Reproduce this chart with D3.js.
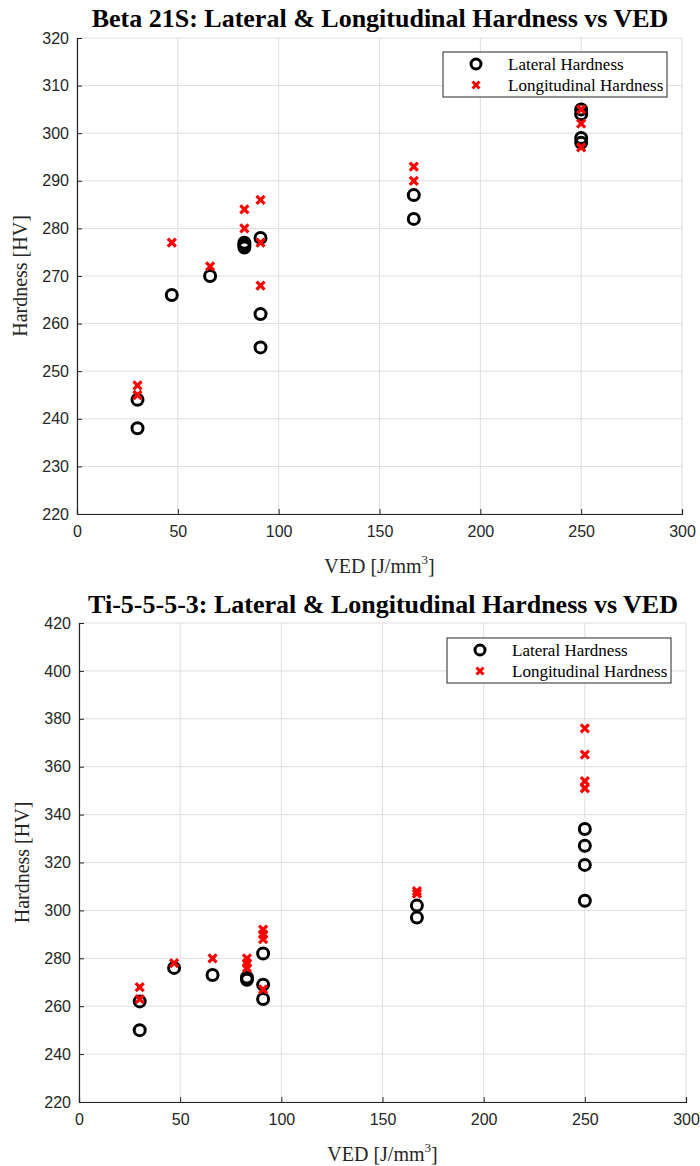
<!DOCTYPE html>
<html>
<head>
<meta charset="utf-8">
<script src="https://cdn.jsdelivr.net/npm/d3@7"></script>
<style>
  html, body { margin: 0; padding: 0; background: #fff; }
  svg { display: block; }
</style>
</head>
<body>
<svg id="fig" width="700" height="1166"></svg>
<script>
// Beta 21S hardness measurements (VED in J/mm^3, hardness in HV)
const betaLatVED = [30, 30, 47, 66, 83, 83, 83, 91, 91, 91, 167, 167, 250, 250, 250, 250];
const betaLatHV  = [244, 238, 266, 270, 277, 276.5, 276, 278, 262, 255, 287, 282, 305, 304, 299, 298];
const betaLonVED = [30, 30, 47, 66, 83, 83, 91, 91, 91, 167, 167, 250, 250, 250];
const betaLonHV  = [247, 245, 277, 272, 284, 280, 286, 277, 268, 293, 290, 305, 302, 297];

// Ti-5-5-5-3 hardness measurements
const tiLatVED = [30, 30, 47, 66, 83, 83, 91, 91, 91, 167, 167, 250, 250, 250, 250];
const tiLatHV  = [262, 250, 276, 273, 272, 271, 282, 269, 263, 302, 297, 334, 327, 319, 304];
const tiLonVED = [30, 30, 47, 66, 83, 83, 83, 91, 91, 91, 91, 167, 167, 250, 250, 250, 250];
const tiLonHV  = [268, 263, 278, 280, 280, 278, 276, 292, 290, 288, 267, 308, 307, 376, 365, 354, 351];

const xTicks = [0, 50, 100, 150, 200, 250, 300];
const betaYTicks = [220, 230, 240, 250, 260, 270, 280, 290, 300, 310, 320];
const tiYTicks = [220, 240, 260, 280, 300, 320, 340, 360, 380, 400, 420];

const seriesNames = ["Lateral Hardness", "Longitudinal Hardness"];

const svg = d3.select("#fig");
const crossPath = "M-4,-4L4,4M-4,4L4,-4";
const serif = "'Liberation Serif', 'Times New Roman', serif";

function drawPanel(cfg) {
  const g = svg.append("g");
  const x = d3.scaleLinear().domain([0, 300]).range([cfg.left, cfg.right]);
  const y = d3.scaleLinear().domain(cfg.yDomain).range([cfg.bottom, cfg.top]);

  // grid
  g.append("g").selectAll("line").data(xTicks).join("line")
    .attr("x1", d => x(d)).attr("x2", d => x(d))
    .attr("y1", cfg.top).attr("y2", cfg.bottom)
    .attr("stroke", "#dedede").attr("stroke-width", 1);
  g.append("g").selectAll("line").data(cfg.yTicks).join("line")
    .attr("x1", cfg.left).attr("x2", cfg.right)
    .attr("y1", d => y(d)).attr("y2", d => y(d))
    .attr("stroke", "#dedede").attr("stroke-width", 1);

  // axes
  const xAxis = d3.axisBottom(x).tickValues(xTicks).tickSize(-5).tickPadding(12).tickFormat(d3.format("d"));
  const yAxis = d3.axisLeft(y).tickValues(cfg.yTicks).tickSize(-5).tickPadding(8).tickFormat(d3.format("d"));
  const ax = g.append("g").attr("transform", `translate(0,${cfg.bottom})`).call(xAxis);
  const ay = g.append("g").attr("transform", `translate(${cfg.left},0)`).call(yAxis);
  [ax, ay].forEach(a => {
    a.select(".domain").attr("stroke", "#262626").attr("stroke-width", 1.2);
    a.selectAll(".tick line").attr("stroke", "#262626");
    a.selectAll(".tick text").attr("fill", "#262626")
      .style("font-family", "'Liberation Sans', Arial, sans-serif").style("font-size", "16px");
  });

  // lateral hardness: open circles
  g.append("g").selectAll("circle").data(cfg.latVED.map((v, i) => [v, cfg.latHV[i]])).join("circle")
    .attr("cx", d => x(d[0])).attr("cy", d => y(d[1])).attr("r", 5.5)
    .attr("fill", "none").attr("stroke", "#000").attr("stroke-width", 3);

  // longitudinal hardness: red crosses
  g.append("g").selectAll("path").data(cfg.lonVED.map((v, i) => [v, cfg.lonHV[i]])).join("path")
    .attr("transform", d => `translate(${x(d[0])},${y(d[1])})`)
    .attr("d", crossPath).attr("stroke", "#ff0000").attr("stroke-width", 3.2).attr("fill", "none");

  // title
  g.append("text").attr("x", cfg.titleX).attr("y", cfg.titleY).attr("text-anchor", "middle")
    .style("font-family", serif).style("font-weight", "bold")
    .style("font-size", "26px").attr("fill", "#000").text(cfg.title);

  // axis labels
  const xl = g.append("text").attr("x", (cfg.left + cfg.right) / 2).attr("y", cfg.bottom + 59)
    .attr("text-anchor", "middle")
    .style("font-family", serif).style("font-size", "20px")
    .attr("fill", "#262626");
  xl.append("tspan").text("VED [J/mm");
  xl.append("tspan").attr("dy", -9).style("font-size", "13px").text("3");
  xl.append("tspan").attr("dy", 9).text("]");

  g.append("text")
    .attr("transform", `translate(${cfg.left - 50},${(cfg.top + cfg.bottom) / 2}) rotate(-90)`)
    .attr("text-anchor", "middle")
    .style("font-family", serif).style("font-size", "20px")
    .attr("fill", "#262626").text("Hardness [HV]");

  // legend
  const lg = g.append("g").attr("transform", `translate(${cfg.legX},${cfg.legY})`);
  lg.append("rect").attr("x", 0).attr("y", 0).attr("width", 224).attr("height", 45)
    .attr("fill", "#fff").attr("stroke", "#262626").attr("stroke-width", 1);
  lg.append("circle").attr("cx", 33).attr("cy", 12).attr("r", 5)
    .attr("fill", "none").attr("stroke", "#000").attr("stroke-width", 3);
  lg.append("path").attr("transform", "translate(33,33)").attr("d", "M-3.5,-3.5L3.5,3.5M-3.5,3.5L3.5,-3.5")
    .attr("stroke", "#ff0000").attr("stroke-width", 3).attr("fill", "none");
  lg.selectAll("text").data(seriesNames).join("text")
    .attr("x", 65).attr("y", (d, i) => 17.5 + i * 21)
    .style("font-family", serif).style("font-size", "17px")
    .attr("fill", "#000").text(d => d);
}

drawPanel({
  title: "Beta 21S: Lateral & Longitudinal Hardness vs VED",
  titleX: 380, titleY: 27,
  left: 77, right: 682, top: 38, bottom: 514,
  yDomain: [220, 320], yTicks: betaYTicks,
  latVED: betaLatVED, latHV: betaLatHV, lonVED: betaLonVED, lonHV: betaLonHV,
  legX: 443, legY: 52
});

drawPanel({
  title: "Ti-5-5-5-3: Lateral & Longitudinal Hardness vs VED",
  titleX: 383, titleY: 613,
  left: 79, right: 686, top: 623, bottom: 1102,
  yDomain: [220, 420], yTicks: tiYTicks,
  latVED: tiLatVED, latHV: tiLatHV, lonVED: tiLonVED, lonHV: tiLonHV,
  legX: 447, legY: 638
});
</script>
</body>
</html>
